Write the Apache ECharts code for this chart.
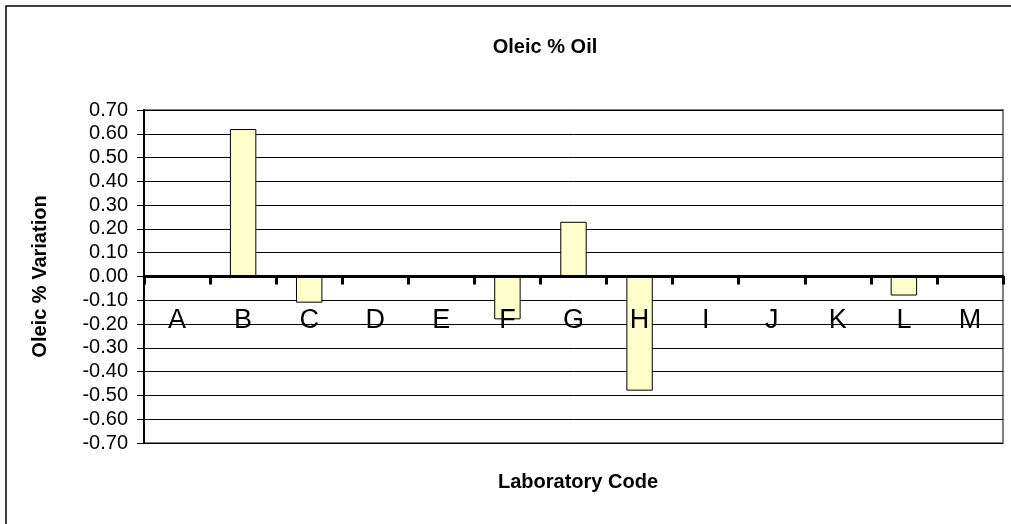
<!DOCTYPE html>
<html>
<head>
<meta charset="utf-8">
<title>Oleic % Oil</title>
<script src="https://cdn.jsdelivr.net/npm/echarts@6/dist/echarts.min.js"></script>
<style>
  html, body { margin: 0; padding: 0; background: #fff; }
  #main { width: 1011px; height: 524px; }
</style>
</head>
<body>
<div id="main"></div>
<script>
// 实验室代码
var labCodes = ['A', 'B', 'C', 'D', 'E', 'F', 'G', 'H', 'I', 'J', 'K', 'L', 'M'];
// Oleic % 偏差
var variation = [0, 0.62, -0.11, 0, 0, -0.18, 0.23, -0.48, 0, 0, 0, -0.08, 0];
// 纵轴范围
var yMin = -0.7;
var yMax = 0.7;
var yStep = 0.1;

var FONT = 'Liberation Sans, Arial, sans-serif';

var myChart = echarts.init(document.getElementById('main'));

var option = {
    animation: false,
    backgroundColor: '#fff',
    title: [
        {
            text: 'Oleic % Oil',
            left: 540,
            top: 32,
            textAlign: 'center',
            textStyle: { fontFamily: FONT, fontSize: 20, fontWeight: 'bold', color: '#000' }
        },
        {
            text: 'Laboratory Code',
            left: 573,
            top: 467,
            textAlign: 'center',
            textStyle: { fontFamily: FONT, fontSize: 20, fontWeight: 'bold', color: '#000' }
        }
    ],
    // 外框
    graphic: [
        {
            type: 'rect',
            shape: { x: 6, y: 6, width: 1100, height: 600 },
            style: { fill: 'none', stroke: '#000', lineWidth: 1.5 },
            silent: true
        }
    ],
    grid: {
        left: 144,
        right: 8,
        top: 110,
        bottom: 81,
        show: true,
        backgroundColor: 'transparent',
        borderColor: '#808080',
        borderWidth: 2
    },
    xAxis: {
        type: 'category',
        data: labCodes,
        z: 3,
        axisLine: { onZero: true, lineStyle: { color: '#000', width: 3 } },
        axisTick: { show: true, length: 8, lineStyle: { color: '#000', width: 3 } },
        axisLabel: {
            // 标签贴着零线下方（标签默认停在网格底部）
            margin: -136,
            fontFamily: FONT,
            fontSize: 27,
            color: '#000'
        },
        splitLine: { show: false }
    },
    yAxis: {
        type: 'value',
        min: yMin,
        max: yMax,
        interval: yStep,
        z: 0,
        name: 'Oleic % Variation',
        nameLocation: 'middle',
        nameGap: 94,
        nameTextStyle: { fontFamily: FONT, fontSize: 20, fontWeight: 'bold', color: '#000' },
        axisLine: { show: true, lineStyle: { color: '#000', width: 2 } },
        axisTick: { show: true, length: 7, lineStyle: { color: '#000', width: 1 } },
        axisLabel: {
            margin: 16,
            fontFamily: FONT,
            fontSize: 20,
            color: '#000',
            formatter: function (v) {
                if (Math.abs(v) < 1e-9) return '0.00';
                return v.toFixed(2);
            }
        },
        splitLine: { show: true, lineStyle: { color: '#000', width: 1 } }
    },
    series: [
        {
            name: 'Oleic % Variation',
            type: 'bar',
            data: variation,
            barWidth: '40%',
            itemStyle: { color: '#FFFFCC', borderColor: '#000', borderWidth: 1 }
        }
    ]
};

myChart.setOption(option);
</script>
</body>
</html>
